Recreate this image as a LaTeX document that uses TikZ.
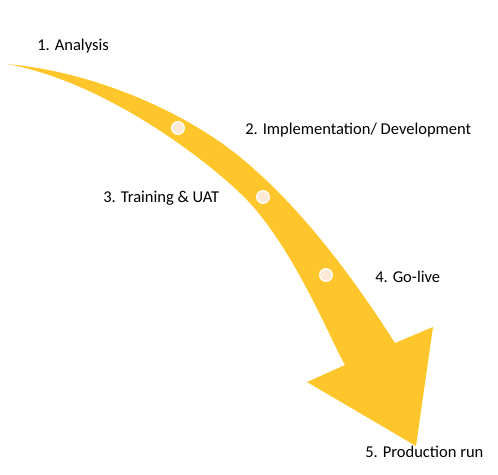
\documentclass[tikz,border=0pt]{standalone}
\usepackage{fontspec}
\setmainfont{Carlito}
\usetikzlibrary{positioning}
\definecolor{arrowgold}{RGB}{255,198,44}
\definecolor{dotcream}{RGB}{251,233,215}
\tikzstyle{stage} = [anchor=west, inner sep=0pt, font=\fontsize{12.4}{15}\selectfont]
\tikzstyle{milestone} = [circle, draw=white, line width=0.9pt, fill=dotcream, minimum size=9.5pt, inner sep=0pt]

\begin{document}
\begin{tikzpicture}[x=0.75pt, y=-0.75pt]
	\useasboundingbox (0,0) rectangle (498,474);

	% big curved arrow
	\fill[arrowgold] (7,64) .. controls (96,72) and (186,113) .. (240,157)
		.. controls (317,220) and (376,314) .. (395,343)
		-- (433,327) -- (416,446) -- (307,382) -- (345,365)
		.. controls (330,339) and (291,241) .. (240,193)
		.. controls (204,158.5) and (105,82) .. (7,64)
		-- cycle;

	\node[milestone] (dotone) at (178,128) {};
	\node[milestone] (dottwo) at (263,197) {};
	\node[milestone] (dotthree) at (326,275) {};

	\node[stage] (analysis) at (37,46) {1. Analysis};
	\node[stage] (implementation) at (245,130) {2. Implementation/ Development};
	\node[stage] (training) at (103,198) {3. Training \& UAT};
	\node[stage] (golive) at (375,277) {4. Go-live};
	\node[stage] (production) at (365,452) {5. Production run};
\end{tikzpicture}
\end{document}
